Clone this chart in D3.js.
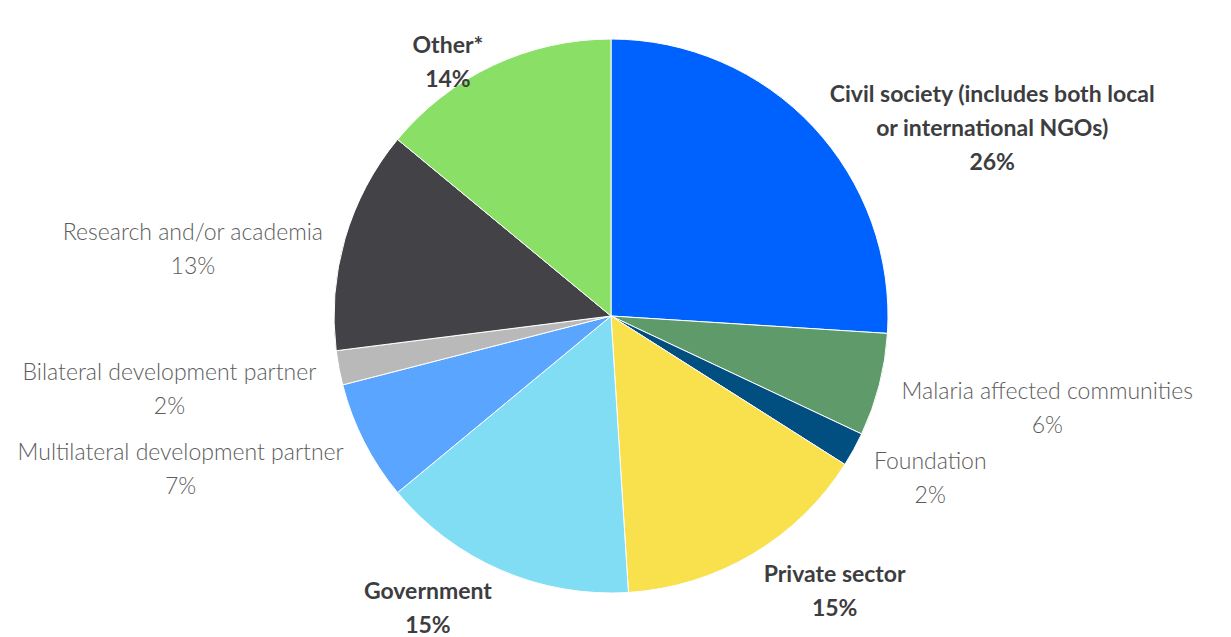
<!DOCTYPE html>
<html>
<head>
<meta charset="utf-8">
<script src="https://cdn.jsdelivr.net/npm/d3@7"></script>
<style>
  body { margin: 0; background: #fff; }
  svg { display: block; }
</style>
</head>
<body>
<div id="chart"></div>
<script>
// Slices, clockwise from 12 o'clock.
const categories = [
  "Civil society (includes both local|or international NGOs)",
  "Malaria affected communities",
  "Foundation",
  "Private sector",
  "Government",
  "Multilateral development partner",
  "Bilateral development partner",
  "Research and/or academia",
  "Other*"
];
const shares = [26, 6, 2, 15, 15, 7, 2, 13, 14];
const colors = ["#0062fe", "#5e9a6a", "#004f80", "#f9e04d", "#80ddf4", "#5aa5ff", "#b9b9b9", "#434247", "#8adf67"];
const boldLabels = ["Civil society (includes both local|or international NGOs)", "Private sector", "Government", "Other*"];

const width = 1231;
const height = 637;
const cx = 611, cy = 316;
const radius = 277;
const labelRadius = 300;
const lineHeight = 34;

const data = categories.map((c, i) => ({ name: c, value: shares[i], color: colors[i] }));

const svg = d3.select("#chart").append("svg")
  .attr("width", width)
  .attr("height", height);

const pie = d3.pie().sort(null).value((d) => d.value);
const arcs = pie(data);

const arc = d3.arc().innerRadius(0).outerRadius(radius);

const g = svg.append("g").attr("transform", `translate(${cx},${cy})`);

g.selectAll("path")
  .data(arcs)
  .join("path")
  .attr("d", arc)
  .attr("fill", (d) => d.data.color)
  .attr("stroke", "#fff")
  .attr("stroke-width", 1);

// Labels sit outside the pie, aligned away from it.
const label = g.selectAll("text")
  .data(arcs)
  .join("text")
  .attr("font-family", "Lato, 'Open Sans', sans-serif")
  .attr("font-size", 23)
  .attr("font-weight", (d) => (boldLabels.includes(d.data.name) ? 700 : 300))
  .attr("fill", (d) => (boldLabels.includes(d.data.name) ? "#3d3d3f" : "#5c5c5c"))
  .each(function (d) {
    const mid = (d.startAngle + d.endAngle) / 2;
    const px = labelRadius * Math.sin(mid);
    const py = -labelRadius * Math.cos(mid) + 17;
    const lines = d.data.name.split("|").concat([d.data.value + "%"]);
    const t = d3.select(this).attr("text-anchor", "middle");
    const tspans = lines.map((l, i) =>
      t.append("tspan").text(l).attr("dy", i == 0 ? 0 : lineHeight)
    );
    // width of the widest line decides the block center
    let w = d3.max(tspans, (s) => s.node().getComputedTextLength());
    let x = px > 0 ? px + w / 2 : px - w / 2;
    let y0 = py - ((lines.length - 1) * lineHeight) / 2 + 8;
    tspans.forEach((s) => s.attr("x", x));
    t.attr("y", y0);
  });
</script>
</body>
</html>
